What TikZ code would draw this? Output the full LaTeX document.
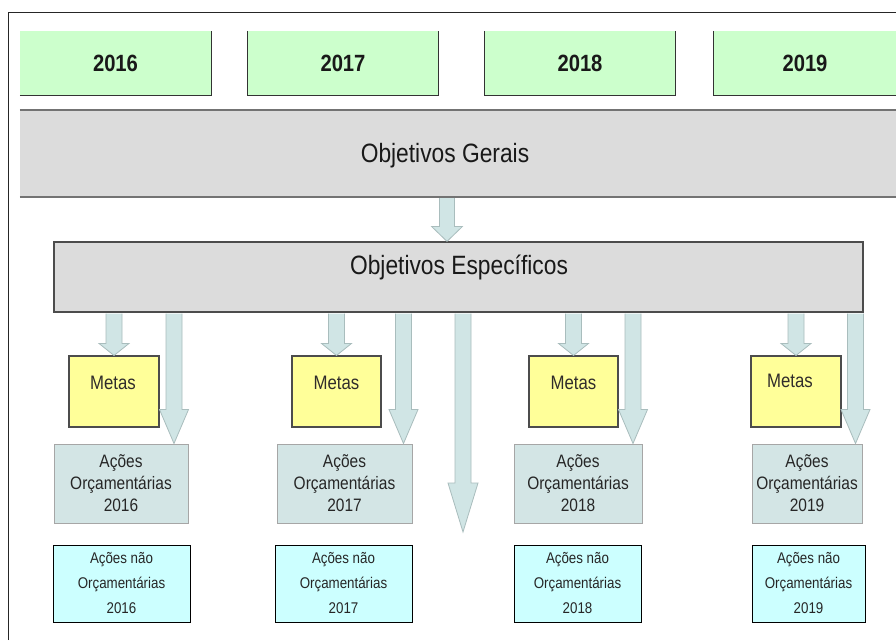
\documentclass[tikz,border=0pt]{standalone}
\usepackage{fontspec}
\setmainfont{Liberation Sans}[FakeStretch=0.86]
\usetikzlibrary{calc}
\definecolor{yeargreen}{HTML}{CCFFCC}
\definecolor{boxgray}{HTML}{DCDCDC}
\definecolor{metayellow}{HTML}{FFFF99}
\definecolor{orcfill}{HTML}{D3E5E5}
\definecolor{naofill}{HTML}{CCFFFF}
\definecolor{arrfill}{HTML}{D0E5E5}
\definecolor{arrline}{HTML}{A9BDBD}
\tikzset{
  yearbox/.style={fill=yeargreen, inner sep=0pt, font=\fontsize{23.5}{26}\selectfont\bfseries, text=black!90},
  bigbox/.style={fill=boxgray, inner sep=0pt},
  bigtext/.style={font=\fontsize{26.5}{30}\selectfont, text=black!90, inner sep=0pt},
  metabox/.style={fill=metayellow, draw=black!70, line width=1.1pt, inner sep=0pt},
  metatext/.style={font=\fontsize{19.5}{22}\selectfont, text=black!85!yellow!40!black, inner sep=0pt},
  orcbox/.style={fill=orcfill, draw=black!35, line width=1pt, inner sep=0pt, align=center,
     font=\fontsize{18}{22}\selectfont, text=black!85},
  naobox/.style={fill=naofill, draw=black, line width=1pt, inner sep=0pt, align=center,
     font=\fontsize{15.5}{25}\selectfont, text=black!85},
  arrowst/.style={fill=arrfill, draw=arrline, line width=0.8pt, line join=miter},
  edgeline/.style={draw=black!80, line width=1.2pt},
}
\newcommand\blockarrow[5]{%
  \draw[arrowst] ($(#1)+(-#3,0)$) -- ($(#2)+(-#3,-#5)$) -- ($(#2)+(-#4,-#5)$) -- (#2)
     -- ($(#2)+(#4,-#5)$) -- ($(#2)+(#3,-#5)$) -- ($(#1)+(#3,0)$);}
\begin{document}
\begin{tikzpicture}[x=1pt,y=-1pt]
\useasboundingbox (0,0) rectangle (896,640);
\fill[white] (0,0) rectangle (896,640);
% frame
\draw[black!85, line width=1pt] (8,640) -- (8,12) -- (896,12);
% years
\node[yearbox, minimum width=191, minimum height=64] (y16) at (115.5,63) {2016};
\node[yearbox, minimum width=190, minimum height=64] (y17) at (343,63) {2017};
\node[yearbox, minimum width=190, minimum height=64] (y18) at (580,63) {2018};
\node[yearbox, minimum width=182, minimum height=64] (y19) at (805,63) {2019};
\draw[edgeline] (y16.south west) -- (y16.south east) -- (y16.north east);
\draw[edgeline] (y17.north west) -- (y17.south west) -- (y17.south east) -- (y17.north east);
\draw[edgeline] (y18.north west) -- (y18.south west) -- (y18.south east) -- (y18.north east);
\draw[edgeline] (y19.north west) -- (y19.south west) -- (y19.south east);
% objetivos gerais
\node[bigbox, minimum width=876, minimum height=87] (gerais) at (458,153.5) {};
\draw[black!55, line width=1.8pt] (gerais.north west) -- (gerais.north east);
\draw[black!55, line width=1.8pt] (gerais.south west) -- (gerais.south east);
\node[bigtext] (gtext) at (445,156) {Objetivos Gerais};
% objetivos especificos
\node[bigbox, draw=black!70, line width=1.2pt, minimum width=809, minimum height=70] (esp) at (458.5,277) {};
\node[bigtext] (etext) at (459,267) {Objetivos Específicos};
% metas
\node[metabox, minimum width=90, minimum height=71] (m16) at (114,391.5) {};
\node[metabox, minimum width=89, minimum height=71] (m17) at (336.5,391.5) {};
\node[metabox, minimum width=89, minimum height=71] (m18) at (573.5,391.5) {};
\node[metabox, minimum width=90, minimum height=71] (m19) at (796,391.5) {};
\node[metatext] (mt16) at ($(m16.north)+(-1,27)$) {Metas};
\node[metatext] (mt17) at ($(m17.north)+(0,27)$) {Metas};
\node[metatext] (mt18) at ($(m18.north)+(0,27)$) {Metas};
\node[metatext] (mt19) at ($(m19.north)+(-6,25)$) {Metas};
% acoes orcamentarias
\node[orcbox, minimum width=134, minimum height=79] (a16) at (121,483.5) {Ações\\Orçamentárias\\2016};
\node[orcbox, minimum width=135, minimum height=79] (a17) at (344.5,483.5) {Ações\\Orçamentárias\\2017};
\node[orcbox, minimum width=128, minimum height=79] (a18) at (578,483.5) {Ações\\Orçamentárias\\2018};
\node[orcbox, minimum width=110, minimum height=79] (a19) at (807,483.5) {Ações\\Orçamentárias\\2019};
% acoes nao orcamentarias
\node[naobox, minimum width=137, minimum height=77] (n16) at (121.5,583.5) {Ações não\\Orçamentárias\\2016};
\node[naobox, minimum width=137, minimum height=77] (n17) at (343.5,583.5) {Ações não\\Orçamentárias\\2017};
\node[naobox, minimum width=127, minimum height=77] (n18) at (577.5,583.5) {Ações não\\Orçamentárias\\2018};
\node[naobox, minimum width=113, minimum height=77] (n19) at (808.5,583.5) {Ações não\\Orçamentárias\\2019};
% arrow coordinates
\coordinate (gs) at ($(447,0 |- gerais.south)+(0,1)$);
\coordinate (gt) at (447,0 |- esp.north);
\coordinate (cs) at ($(463,0 |- esp.south)+(0,1)$);
\coordinate (ct) at (463,532);
\foreach \m in {16,17,18,19}{
  \coordinate (ms\m) at ($(m\m.north |- esp.south)+(0,1)$);
}
\coordinate (ls16) at ($(174,0 |- esp.south)+(0,1)$);
\coordinate (lt16) at (174,0 |- a16.north);
\coordinate (ls17) at ($(403.5,0 |- esp.south)+(0,1)$);
\coordinate (lt17) at (403.5,0 |- a17.north);
\coordinate (ls18) at ($(633,0 |- esp.south)+(0,1)$);
\coordinate (lt18) at (633,0 |- a18.north);
\coordinate (ls19) at ($(855.5,0 |- esp.south)+(0,1)$);
\coordinate (lt19) at (855.5,0 |- a19.north);
% arrows
\blockarrow{gs}{gt}{7.5}{15.5}{15}
\blockarrow{cs}{ct}{8}{15}{49}
\foreach \m in {16,17,18,19}{
  \blockarrow{ms\m}{m\m.north}{8}{15}{12}
  \blockarrow{ls\m}{lt\m}{8}{14.5}{34}
}
\end{tikzpicture}
\end{document}
